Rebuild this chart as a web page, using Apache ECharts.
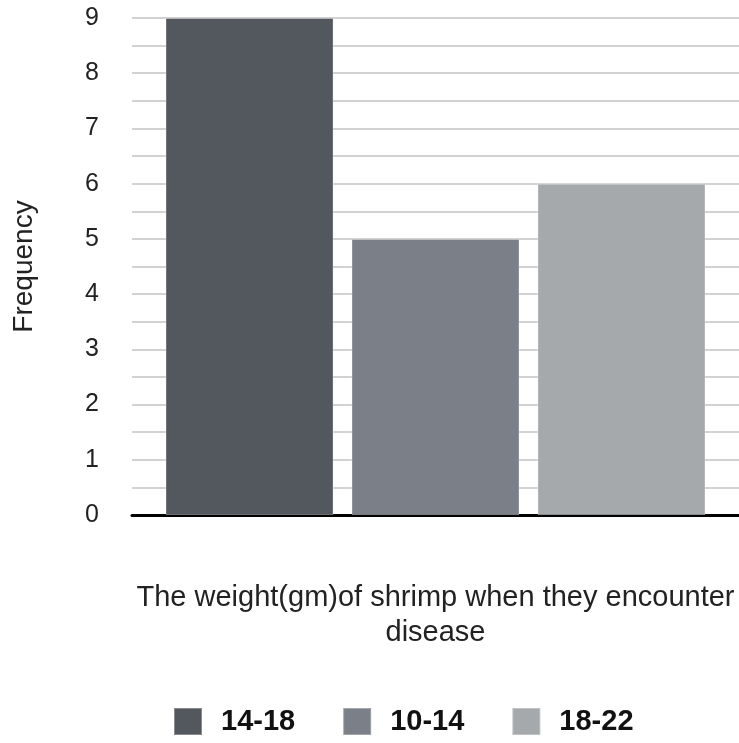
<!DOCTYPE html>
<html>
<head>
<meta charset="utf-8">
<style>
  html, body { margin: 0; padding: 0; background: #fff; }
  #chart { width: 739px; height: 743px; }
</style>
<script src="https://cdn.jsdelivr.net/npm/echarts@6/dist/echarts.min.js"></script>
</head>
<body>
<div id="chart"></div>
<script>
// Weight classes (gm) and how many diseased shrimp fell in each
const seriesNames = ['14-18', '10-14', '18-22'];
const frequencies = [9, 5, 6];
const barColors = ['#53575e', '#7b8088', '#a6a9ac'];
const categories = [''];

const FONT = '"Liberation Sans", Arial, Helvetica, sans-serif';

const chart = echarts.init(document.getElementById('chart'));

const series = seriesNames.map((name, i) => ({
  name: name,
  type: 'bar',
  data: [frequencies[i]],
  barWidth: 168,
  barGap: '10.7%',
  itemStyle: { color: barColors[i], borderColor: 'rgba(255,255,255,0.3)', borderWidth: 1 },
  silent: true
}));

chart.setOption({
  animation: false,
  backgroundColor: '#fff',
  grid: { left: 132, right: -3, top: 18, bottom: 228, containLabel: false },
  legend: {
    bottom: 2,
    left: 168,
    itemWidth: 28,
    itemHeight: 27,
    itemGap: 47,
    icon: 'rect',
    textStyle: { fontFamily: FONT, fontSize: 29, fontWeight: 'bold', color: '#111', padding: [0, 0, 0, 14] },
    data: seriesNames
  },
  xAxis: {
    type: 'category',
    data: categories,
    name: 'The weight(gm)of shrimp when they encounter\ndisease',
    nameLocation: 'middle',
    nameGap: 65,
    nameTextStyle: { fontFamily: FONT, fontSize: 29, color: '#222', lineHeight: 35 },
    axisLine: { lineStyle: { color: '#000', width: 3 } },
    axisTick: { show: false },
    axisLabel: { show: false }
  },
  yAxis: {
    type: 'value',
    min: 0,
    max: 9,
    interval: 1,
    name: 'Frequency',
    nameLocation: 'middle',
    nameGap: 94,
    nameTextStyle: { fontFamily: FONT, fontSize: 28, color: '#222' },
    axisLine: { show: false },
    axisTick: { show: false },
    axisLabel: { fontFamily: FONT, fontSize: 25, color: '#222', margin: 33 },
    splitLine: { lineStyle: { color: '#d2d2d2', width: 2 } },
    minorTick: { show: false, splitNumber: 2 },
    minorSplitLine: { show: true, lineStyle: { color: '#d2d2d2', width: 2 } }
  },
  series: series
});
</script>
</body>
</html>
